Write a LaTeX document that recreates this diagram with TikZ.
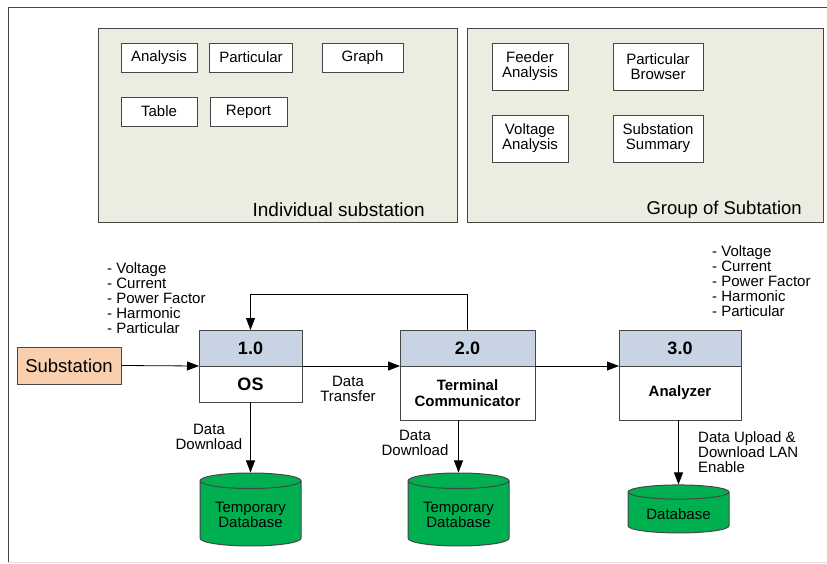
\documentclass[tikz,border=0pt]{standalone}
\usepackage{fontspec}
\setmainfont{Liberation Sans}
\usetikzlibrary{arrows.meta,shapes.geometric,positioning}

\definecolor{panelbg}{RGB}{235,237,225}
\definecolor{peach}{RGB}{250,207,173}
\definecolor{headblue}{RGB}{200,212,227}
\definecolor{dbgreen}{RGB}{0,176,80}
\definecolor{edge}{RGB}{70,70,70}

\tikzset{
    panel/.style={draw=edge, fill=panelbg, line width=1pt},
    item/.style={draw=edge, fill=white, line width=1pt, minimum width=76pt, minimum height=29pt, inner xsep=9.5pt, align=center},
    head/.style={draw=edge, fill=headblue, line width=1pt, outer sep=0pt, minimum height=36pt, font=\fontsize{18}{18}\selectfont\bfseries},
    body/.style={draw=edge, fill=white, line width=1pt, outer sep=0pt, align=center, font=\fontsize{15}{16}\selectfont\bfseries},
    db/.style={cylinder, shape border rotate=90, aspect=0.2, draw=edge, fill=dbgreen, line width=1pt, minimum width=101pt, align=center},
    flow/.style={-{Triangle[length=12pt,width=9pt]}, line width=0.8pt},
    note/.style={align=left, inner sep=0pt}
}

\begin{document}
\begin{tikzpicture}[x=1pt, y=-1pt, every node/.style={font=\fontsize{15}{15}\selectfont}]
    \useasboundingbox (0,0) rectangle (827,563);
    % Frame
    \draw[line width=1pt, edge] (827,7) -- (8,7) -- (8,563);
    \draw[line width=1pt, black!12] (8,562) -- (827,562);

    % Individual substation
    \node[panel, minimum width=359pt, minimum height=194pt] (pind) at (277.5,125) {};
    \node[item] (analysis) at (159,57.5) {Analysis};
    \node[item] (partic) at (251,57.5) {Particular};
    \node[item, minimum width=81pt] (graph) at (362.5,57.5) {Graph};
    \node[item] (table) at (159,111.5) {Table};
    \node[item, minimum width=77pt] (report) at (248.5,111.5) {Report};
    \node[anchor=east, inner sep=0pt, font=\fontsize{19}{19}\selectfont] (lind) at (425,210) {Individual substation};

    % Group of substation
    \node[panel, minimum width=356pt, minimum height=194pt] (pgrp) at (645,125) {};
    \node[item, minimum height=47pt] (feeder) at (530,66.5) {Feeder\\Analysis};
    \node[item, minimum width=90pt, minimum height=47pt] (browser) at (658,66.5) {Particular\\Browser};
    \node[item, minimum height=47pt] (voltage) at (530,138.5) {Voltage\\Analysis};
    \node[item, minimum width=90pt, minimum height=47pt] (summary) at (658,138.5) {Substation\\Summary};
    \node[anchor=east, inner sep=0pt, font=\fontsize{18.5}{18.5}\selectfont] (lgrp) at (802,210) {Group of Subtation};

    % Substation
    \node[draw=edge, fill=peach, line width=1pt, minimum width=104pt, minimum height=37pt, font=\fontsize{18.5}{18.5}\selectfont] (sub) at (69,365.5) {Substation};
    \node[note, anchor=west] (lsub) at (107,298) {- Voltage\\- Current\\- Power Factor\\- Harmonic\\- Particular};

    % Processes
    \node[head, minimum width=103pt] (p1h) at (250.5,348) {1.0};
    \node[body, minimum width=103pt, minimum height=36pt, font=\fontsize{18}{18}\selectfont\bfseries, below=0pt of p1h] (p1) {OS};
    \node[head, minimum width=135pt] (p2h) at (467.5,348) {2.0};
    \node[body, minimum width=135pt, minimum height=54pt, below=0pt of p2h] (p2) {Terminal\\Communicator};
    \node[head, minimum width=122pt] (p3h) at (680,348) {3.0};
    \node[body, minimum width=122pt, minimum height=54pt, below=0pt of p3h] (p3) {Analyzer};
    \node[note, anchor=west] (lp3) at (712,281) {- Voltage\\- Current\\- Power Factor\\- Harmonic\\- Particular};

    % Databases
    \node[db, minimum height=73pt] (db1) at (250.5,515) {Temporary\\Database};
    \node[db, minimum height=73pt] (db2) at (458.5,515) {Temporary\\Database};
    \node[db, minimum height=48pt] (db3) at (678.5,514) {Database};

    % Flows
    \draw[flow] (sub.east) -- (p1h.south west);
    \draw[flow] (p1h.south east) -- (p2h.south west);
    \draw[flow] (p2h.south east) -- (p3h.south west);
    \draw[flow] (p2h.north) -- ++(0,-36) -| (p1h.north);
    \draw[flow] (p1.south) -- (db1.north);
    \draw[flow] (db2.north |- p2.south) -- (db2.north);
    \draw[flow] (db3.north |- p3.south) -- (db3.north);

    % Flow labels
    \node[align=center, inner sep=0pt] (ltrans) at (348,389) {Data\\Transfer};
    \node[align=center, inner sep=0pt] (ldown1) at (209,436.5) {Data\\Download};
    \node[align=center, inner sep=0pt] (ldown2) at (415,442.5) {Data\\Download};
    \node[note, anchor=west] (lup) at (698,452) {Data Upload \&\\Download LAN\\Enable};
\end{tikzpicture}
\end{document}
